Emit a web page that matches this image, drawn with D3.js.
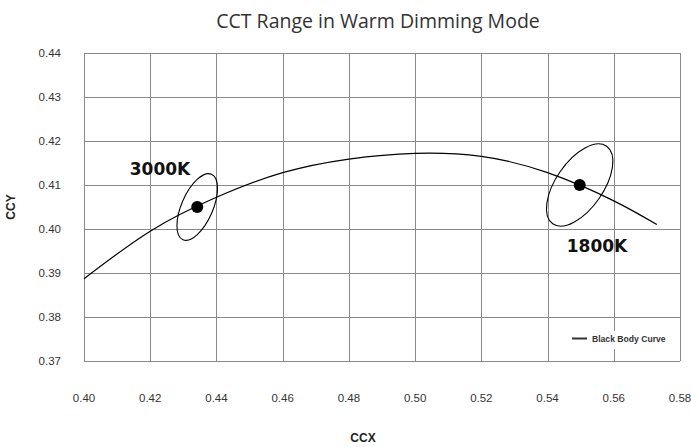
<!DOCTYPE html>
<html>
<head>
<meta charset="utf-8">
<script src="https://cdn.jsdelivr.net/npm/d3@7/dist/d3.min.js"></script>
<style>
  body { margin: 0; background: #fff; }
</style>
</head>
<body>
<div id="chart"></div>
<script>
// black body curve
var curveX = [0.400, 0.420, 0.440, 0.460, 0.480, 0.500, 0.520, 0.540, 0.560, 0.573];
var curveY = [0.3887, 0.3995, 0.4072, 0.4128, 0.4159, 0.4172, 0.4165, 0.4128, 0.4064, 0.4010];

// colour points and their tolerance ellipses
var pointNames = ["3000K", "1800K"];
var pointX = [0.4342, 0.5497];
var pointY = [0.4050, 0.4100];
// major half-axis as an offset in data units, minor/major ratio
var majorDX = [0.00432, 0.00813];
var majorDY = [0.00743, 0.00882];
var minorRatio = [0.44, 0.50];

var xTicks = [0.40, 0.42, 0.44, 0.46, 0.48, 0.50, 0.52, 0.54, 0.56, 0.58];
var yTicks = [0.37, 0.38, 0.39, 0.40, 0.41, 0.42, 0.43, 0.44];

var W = 691, H = 447;
var m = {left: 84, right: 11, top: 53, bottom: 86};

var svg = d3.select("#chart").append("svg")
  .attr("width", W).attr("height", H);

var x = d3.scaleLinear().domain([0.40, 0.58]).range([m.left, W - m.right]);
var y = d3.scaleLinear().domain([0.37, 0.44]).range([H - m.bottom, m.top]);
var fmt = d3.format(".2f");

// title
svg.append("text")
  .attr("x", 378).attr("y", 28)
  .attr("text-anchor", "middle")
  .style("font-family", "'Open Sans', sans-serif")
  .style("font-size", "19.5px")
  .style("fill", "#333")
  .text("CCT Range in Warm Dimming Mode");

// grid
var grid = svg.append("g").attr("stroke", "#8a8a8a").attr("stroke-width", 1);
grid.selectAll("line.v").data(xTicks).enter().append("line")
  .attr("class", "v")
  .attr("x1", function (d) { return Math.round(x(d)) + 0.5; })
  .attr("x2", function (d) { return Math.round(x(d)) + 0.5; })
  .attr("y1", y(0.44)).attr("y2", y(0.37));
grid.selectAll("line.h").data(yTicks).enter().append("line")
  .attr("class", "h")
  .attr("y1", function (d) { return Math.round(y(d)) + 0.5; })
  .attr("y2", function (d) { return Math.round(y(d)) + 0.5; })
  .attr("x1", x(0.40)).attr("x2", x(0.58));

// tick labels
svg.selectAll("text.xt").data(xTicks).enter().append("text")
  .attr("class", "xt")
  .attr("x", function (d) { return x(d); })
  .attr("y", 402)
  .attr("text-anchor", "middle")
  .style("font-family", "'Liberation Sans', Arial, sans-serif")
  .style("font-size", "11.5px")
  .style("fill", "#333")
  .text(fmt);
svg.selectAll("text.yt").data(yTicks).enter().append("text")
  .attr("class", "yt")
  .attr("x", 61)
  .attr("y", function (d) { return y(d) + 4; })
  .attr("text-anchor", "end")
  .style("font-family", "'Liberation Sans', Arial, sans-serif")
  .style("font-size", "11.5px")
  .style("fill", "#333")
  .text(fmt);

// axis titles
svg.append("text")
  .attr("x", 363).attr("y", 442)
  .attr("text-anchor", "middle")
  .style("font-family", "'Liberation Sans', Arial, sans-serif")
  .style("font-size", "12px").style("font-weight", "bold")
  .style("fill", "#222")
  .text("CCX");
svg.append("text")
  .attr("transform", "translate(15," + ((y(0.37) + y(0.44)) / 2) + ") rotate(-90)")
  .attr("text-anchor", "middle")
  .style("font-family", "'Liberation Sans', Arial, sans-serif")
  .style("font-size", "12px").style("font-weight", "bold")
  .style("fill", "#222")
  .text("CCY");

// black body curve
var curveData = curveX.map(function (d, i) { return [d, curveY[i]]; });
var line = d3.line()
  .x(function (d) { return x(d[0]); })
  .y(function (d) { return y(d[1]); })
  .curve(d3.curveNatural);
svg.append("path")
  .datum(curveData)
  .attr("d", line)
  .attr("fill", "none")
  .attr("stroke", "#000")
  .attr("stroke-width", 1.2);

// ellipses, dots
pointNames.forEach(function (name, i) {
  var cx = x(pointX[i]), cy = y(pointY[i]);
  var mx = x(pointX[i] + majorDX[i]) - cx;
  var my = y(pointY[i] + majorDY[i]) - cy;
  var a = Math.sqrt(mx * mx + my * my);
  var ang = Math.atan2(my, mx) * 180 / Math.PI;
  svg.append("ellipse")
    .attr("cx", 0).attr("cy", 0)
    .attr("rx", a).attr("ry", a * minorRatio[i])
    .attr("transform", "translate(" + cx + "," + cy + ") rotate(" + ang + ")")
    .attr("fill", "none")
    .attr("stroke", "#000")
    .attr("stroke-width", 1.1);
  svg.append("circle")
    .attr("cx", cx).attr("cy", cy).attr("r", 6)
    .attr("fill", "#000");
});

var labelPos = [[160, 175], [597, 252]];
svg.selectAll("text.pl").data(pointNames).enter().append("text")
  .attr("class", "pl")
  .attr("x", function (d, i) { return labelPos[i][0]; })
  .attr("y", function (d, i) { return labelPos[i][1]; })
  .attr("text-anchor", "middle")
  .style("font-family", "'DejaVu Sans', sans-serif")
  .style("font-size", "17px").style("font-weight", "bold")
  .style("fill", "#111")
  .text(function (d) { return d; });

// legend
var lg = svg.append("g");
lg.append("rect")
  .attr("x", 568).attr("y", 331).attr("width", 103).attr("height", 18)
  .attr("fill", "#fff");
lg.append("line")
  .attr("x1", 572).attr("x2", 587).attr("y1", 338.5).attr("y2", 338.5)
  .attr("stroke", "#333").attr("stroke-width", 2);
lg.append("text")
  .attr("x", 592).attr("y", 341.5)
  .style("font-family", "'Liberation Sans', Arial, sans-serif")
  .style("font-size", "8.6px").style("font-weight", "bold")
  .style("fill", "#333")
  .text("Black Body Curve");
</script>
</body>
</html>
